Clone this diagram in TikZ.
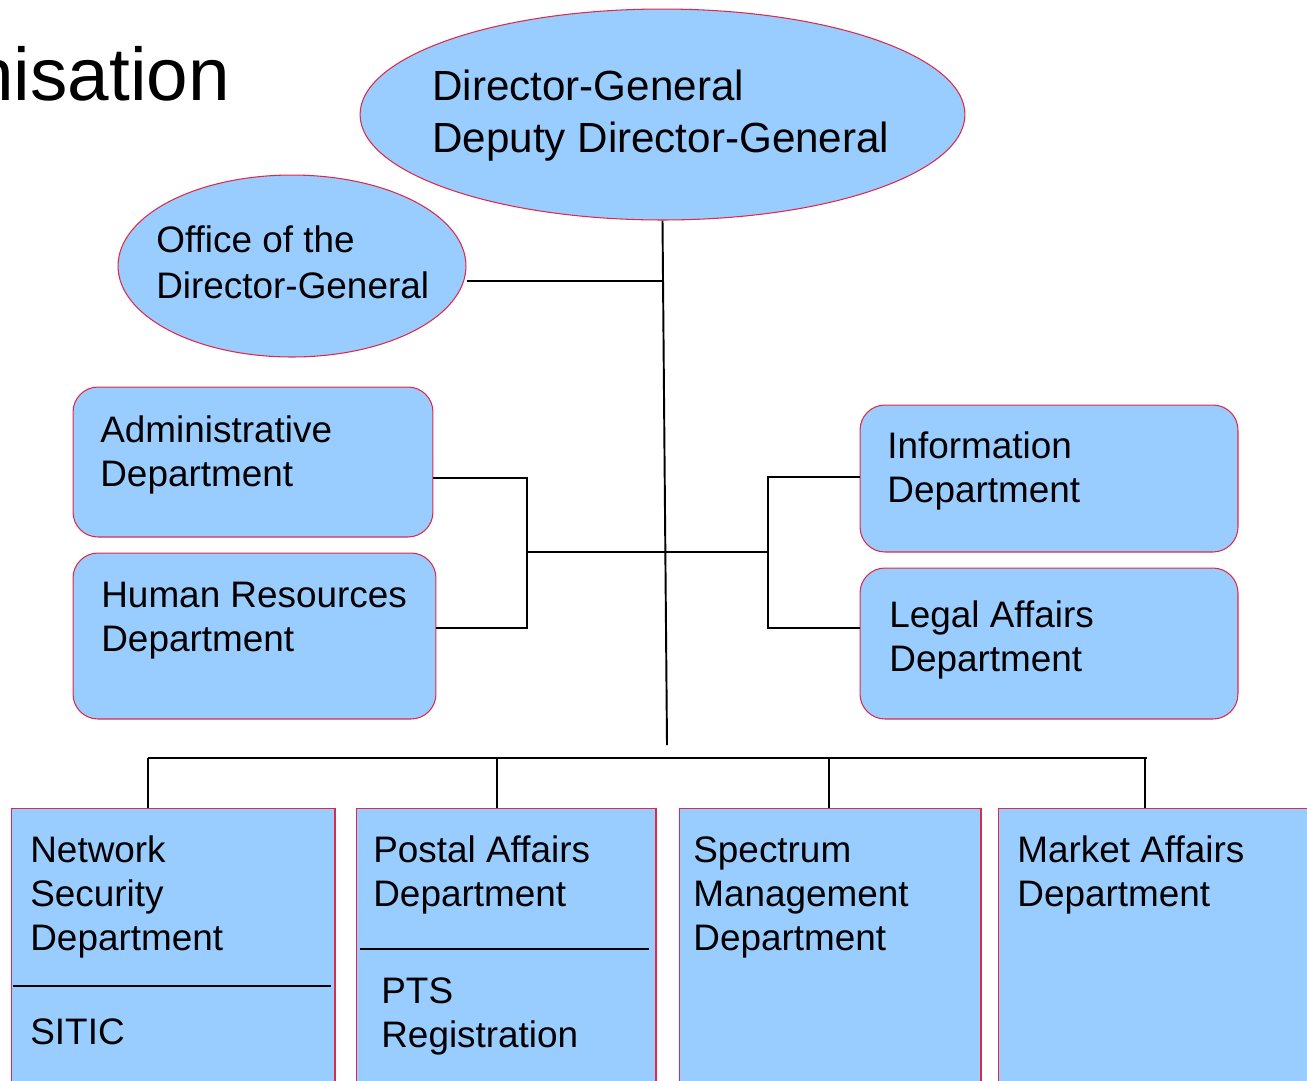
\documentclass[tikz,border=0pt]{standalone}
\usepackage{fontspec}
\setmainfont{Liberation Sans}
\usetikzlibrary{shapes.geometric}
\definecolor{boxblue}{RGB}{153,204,255}
\definecolor{boxedge}{RGB}{226,40,72}

\begin{document}
\begin{tikzpicture}[x=0.02cm,y=-0.02cm,
        oval/.style={ellipse,draw=boxedge,fill=boxblue,line width=0.6pt,inner sep=0pt},
        dept/.style={rectangle,rounded corners=0.5cm,draw=boxedge,fill=boxblue,line width=0.6pt,inner sep=0pt},
        unit/.style={rectangle,draw=boxedge,fill=boxblue,line width=0.6pt,inner sep=0pt,minimum height=5.84cm},
        lbl/.style={anchor=base west,align=left,inner sep=0pt,font=\fontsize{21}{25}\selectfont},
        wire/.style={line width=1.1pt}]
        \useasboundingbox (0,0) rectangle (1307,1080);
        \clip (0,0) rectangle (1307,1080);
        %% title, cut off at the left edge
        \node[anchor=base west,inner sep=0pt,font=\fontsize{42.5}{50}\selectfont] (title) at (-28,100) {nisation};
        %% top of the tree
        \node[oval,minimum width=12.1cm,minimum height=4.22cm] (dg) at (662.5,114.5) {};
        \node[lbl,font=\fontsize{24}{29.5}\selectfont] (dgtxt) at (432,152) {Director-General\\Deputy Director-General};
        \node[oval,minimum width=6.96cm,minimum height=3.64cm] (off) at (292,266) {};
        \node[lbl,font=\fontsize{21}{26}\selectfont] (offtxt) at (156,298) {Office of the\\Director-General};
        %% staff departments
        \node[dept,minimum width=7.2cm,minimum height=3.0cm] (adm) at (253,462) {};
        \node[lbl] (admtxt) at (100,486) {Administrative\\Department};
        \node[dept,minimum width=7.26cm,minimum height=3.32cm] (hr) at (254.5,636) {};
        \node[lbl] (hrtxt) at (101,651) {Human Resources\\Department};
        \node[dept,minimum width=7.56cm,minimum height=2.94cm] (inf) at (1049,478.5) {};
        \node[lbl] (inftxt) at (887,502) {Information\\Department};
        \node[dept,minimum width=7.56cm,minimum height=3.02cm] (leg) at (1049,643.5) {};
        \node[lbl] (legtxt) at (889,671) {Legal Affairs\\Department};
        %% line departments
        \node[unit,minimum width=6.48cm] (net) at (173,954) {};
        \node[lbl] (nettxt) at (30,950) {Network\\Security\\Department};
        \node[lbl] (sitic) at (30,1044) {SITIC};
        \node[unit,minimum width=6.0cm] (pos) at (506,954) {};
        \node[lbl] (postxt) at (373,906) {Postal Affairs\\Department};
        \node[lbl] (pts) at (381,1047) {PTS\\Registration};
        \node[unit,minimum width=6.04cm] (spe) at (830,954) {};
        \node[lbl] (spetxt) at (693,950) {Spectrum\\Management\\Department};
        \node[unit,minimum width=6.44cm] (mkt) at (1159,954) {};
        \node[lbl] (mkttxt) at (1017,906) {Market Affairs\\Department};
        %% dividers inside the boxes
        \draw[wire] (13,986) -- (331,986);
        \draw[wire] (360,949) -- (649,949);
        %% junction points
        \coordinate (trunk) at (667,745);
        \coordinate (offj) at (663,281);
        \coordinate (lj) at (527,552);
        \coordinate (rj) at (768,552);
        \coordinate (d1) at (148,758);
        \coordinate (d2) at (497,758);
        \coordinate (d3) at (829,758);
        \coordinate (d4) at (1147,758);
        %% connectors
        \draw[wire] (dg.south) -- (trunk);
        \draw[wire] (offj -| off.east) -- (offj);
        \draw[wire] (lj) -- (rj);
        \draw[wire] ([yshift=-0.32cm]adm.east) -| (lj) |- ([yshift=0.16cm]hr.east);
        \draw[wire] ([yshift=0.03cm]inf.west) -| (rj) |- ([yshift=0.31cm]leg.west);
        \draw[wire] (d1) -- (d4);
        \draw[wire] (d1) -- (d1 |- net.north);
        \draw[wire] (d2) -- (d2 |- pos.north);
        \draw[wire] (d3) -- (d3 |- spe.north);
        \draw[wire] (1145,758) -- (1145,808);
\end{tikzpicture}
\end{document}
